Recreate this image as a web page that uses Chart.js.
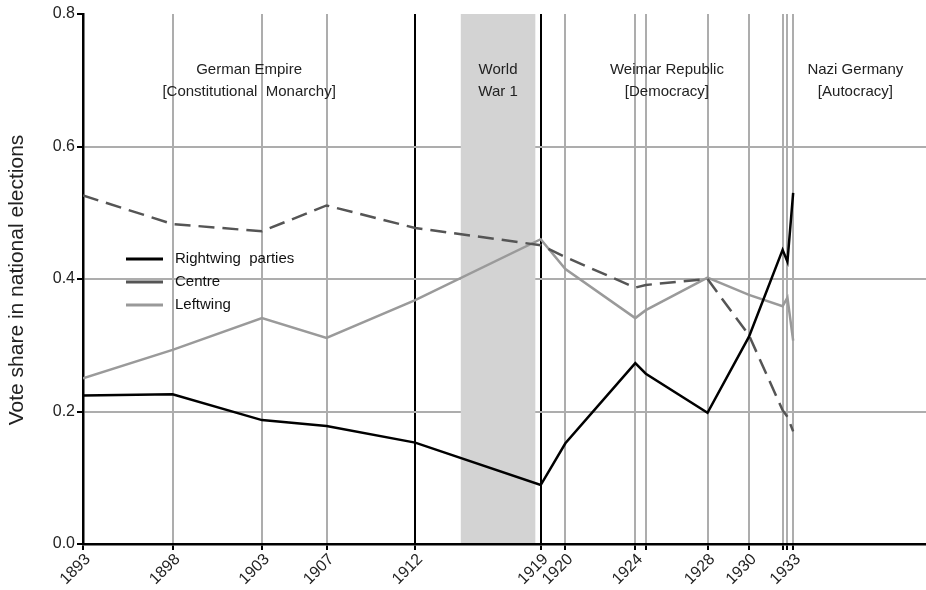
<!DOCTYPE html>
<html>
<head>
<meta charset="utf-8">
<script src="https://cdn.jsdelivr.net/npm/chart.js@4.4.1/dist/chart.umd.min.js"></script>
<style>
  body { margin: 0; background: #fff; }
  #wrap { width: 926px; height: 590px; }
</style>
</head>
<body>
<div id="wrap"><canvas id="chart" width="926" height="590"></canvas></div>
<script>
// election dates as decimal years (exact days), labels for the axis
const electionDates = [1893.45, 1898.46, 1903.46, 1907.07, 1912.03, 1919.05, 1920.43,
  1924.34, 1924.93, 1928.38, 1930.70, 1932.58, 1932.85, 1933.17];
const dateLabels = ["1893", "1898", "1903", "1907", "1912", "1919", "1920",
  "1924", "", "1928", "1930", "", "", "1933"];
const regimeBreaks = [1912.03, 1919.05];
const warSpan = [1914.58, 1918.75];

const rightwing = [0.224, 0.226, 0.187, 0.178, 0.153, 0.089, 0.152, 0.273, 0.257, 0.198, 0.313, 0.444, 0.426, 0.530];
const centre    = [0.526, 0.483, 0.472, 0.511, 0.477, 0.451, 0.433, 0.387, 0.391, 0.400, 0.315, 0.202, 0.192, 0.170];
const leftwing  = [0.250, 0.293, 0.341, 0.311, 0.368, 0.460, 0.415, 0.341, 0.353, 0.402, 0.376, 0.359, 0.372, 0.307];

const yTicks = [0, 0.2, 0.4, 0.6, 0.8];

// period captions: [centre x value, line 1, line 2]
const periods = [
  [(1893.45 + 1912.03) / 2, "German Empire", "[Constitutional  Monarchy]"],
  [(warSpan[0] + warSpan[1]) / 2, "World", "War 1"],
  [(1919.05 + 1933.17) / 2, "Weimar Republic", "[Democracy]"],
  [1936.65, "Nazi Germany", "[Autocracy]"]
];

const FONT = "'Liberation Sans', Arial, sans-serif";

const toPoints = (vals) => vals.map((v, i) => ({ x: electionDates[i], y: v }));

const decorations = {
  id: "decorations",
  beforeDatasetsDraw(chart) {
    const { ctx } = chart;
    const xs = chart.scales.x, ys = chart.scales.y;
    const x1 = xs.getPixelForValue(warSpan[0]);
    const x2 = xs.getPixelForValue(warSpan[1]);
    const top = ys.getPixelForValue(0.8);
    const bottom = ys.getPixelForValue(0);
    ctx.save();
    ctx.fillStyle = "#d3d3d3";
    ctx.fillRect(x1, top, x2 - x1, bottom - top - 1);
    ctx.restore();
  },
  afterDraw(chart) {
    const { ctx } = chart;
    const xs = chart.scales.x;
    ctx.save();
    ctx.fillStyle = "#222";
    ctx.textAlign = "center";
    ctx.textBaseline = "middle";
    ctx.font = "15px " + FONT;
    periods.forEach(p => {
      const x = xs.getPixelForValue(p[0]);
      ctx.fillText(p[1], x, 70);
      ctx.fillText(p[2], x, 92);
    });

    // legend
    const items = [
      ["Rightwing  parties", "#000"],
      ["Centre", "#555"],
      ["Leftwing", "#999"]
    ];
    ctx.textAlign = "left";
    items.forEach((it, i) => {
      const y = 259 + i * 23;
      ctx.strokeStyle = it[1];
      ctx.lineWidth = 3;
      ctx.beginPath();
      ctx.moveTo(126, y);
      ctx.lineTo(163, y);
      ctx.stroke();
      ctx.fillStyle = "#111";
      ctx.fillText(it[0], 175, y);
    });

    // y axis title
    ctx.translate(17, 280);
    ctx.rotate(-Math.PI / 2);
    ctx.textAlign = "center";
    ctx.font = "21px " + FONT;
    ctx.fillStyle = "#222";
    ctx.fillText("Vote share in national elections", 0, 0);
    ctx.restore();
  }
};

new Chart(document.getElementById("chart"), {
  type: "line",
  data: {
    datasets: [
      { label: "Rightwing parties", data: toPoints(rightwing), borderColor: "#000",
        borderWidth: 2.5, pointRadius: 0, tension: 0 },
      { label: "Centre", data: toPoints(centre), borderColor: "#555",
        borderWidth: 2.5, borderDash: [16, 8], pointRadius: 0, tension: 0 },
      { label: "Leftwing", data: toPoints(leftwing), borderColor: "#9a9a9a",
        borderWidth: 2.5, pointRadius: 0, tension: 0 }
    ]
  },
  options: {
    responsive: false,
    animation: false,
    layout: { padding: { top: 14, left: 0, right: 0, bottom: 0 } },
    plugins: { legend: { display: false }, tooltip: { enabled: false } },
    scales: {
      x: {
        type: "linear",
        min: electionDates[0],
        max: 1940.6,
        afterBuildTicks: (scale) => { scale.ticks = electionDates.map(v => ({ value: v })); },
        afterFit: (scale) => { scale.height = 46; },
        ticks: {
          autoSkip: false,
          minRotation: 45,
          maxRotation: 45,
          padding: 0,
          labelOffset: 5,
          color: "#222",
          font: { family: FONT, size: 16 },
          callback: (value) => {
            const i = electionDates.indexOf(value);
            return i >= 0 ? dateLabels[i] : "";
          }
        },
        grid: {
          color: (c) => (c.tick && regimeBreaks.includes(c.tick.value)) ? "#000" : "#adadad",
          lineWidth: 2,
          tickColor: "#000",
          tickLength: 6
        },
        border: { color: "#000", width: 2.5 }
      },
      y: {
        min: 0,
        max: 0.8,
        afterBuildTicks: (scale) => { scale.ticks = yTicks.map(v => ({ value: v })); },
        afterFit: (scale) => { scale.width = 83; },
        ticks: {
          padding: 2,
          color: "#222",
          font: { family: FONT, size: 16 },
          callback: (value) => value.toFixed(1)
        },
        grid: {
          color: (c) => (c.tick && (c.tick.value === 0 || c.tick.value === 0.8)) ? "rgba(0,0,0,0)" : "#adadad",
          lineWidth: 2,
          tickColor: "#000",
          tickLength: 6
        },
        border: { color: "#000", width: 2.5 }
      }
    }
  },
  plugins: [decorations]
});
</script>
</body>
</html>
